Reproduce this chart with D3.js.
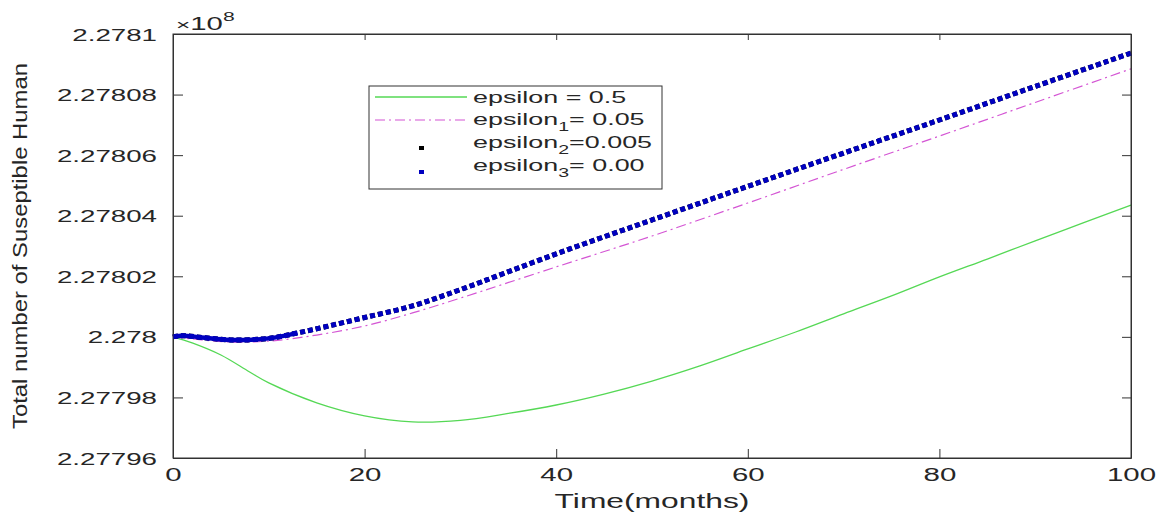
<!DOCTYPE html>
<html>
<head>
<meta charset="utf-8">
<script src="https://cdn.jsdelivr.net/npm/d3@7"></script>
<style>
  body { margin: 0; background: #fff; }
  svg { display: block; font-family: "Liberation Sans", Arial, sans-serif; }
  .axis text { fill: #262626; }
  .axis path, .axis line { stroke: #333; }
</style>
</head>
<body>
<svg class="chart-svg" width="1160" height="512"></svg>
<script>
// series values are in units of 1e8 (the axis shows the x10^8 factor)
const tEps0 = [0, 2, 5, 8, 10, 15, 20, 25, 30, 35, 40, 45, 50, 55, 60, 65, 70, 75, 80, 85, 90, 95, 100];
const sEps0 = [2.2780000, 2.2779980, 2.2779940, 2.2779884, 2.2779848, 2.2779782, 2.2779739, 2.2779719,
  2.2779724, 2.2779747, 2.2779775, 2.2779811, 2.2779854, 2.2779904, 2.2779960, 2.2780016, 2.2780076,
  2.2780135, 2.2780198, 2.2780257, 2.2780317, 2.2780376, 2.2780435];

const tEps1 = [0, 3, 6, 10, 15, 20, 25, 30, 40, 50, 60, 70, 80, 90, 100];
const sEps1 = [2.2780000, 2.2779990, 2.2779983, 2.2779986, 2.2780006, 2.2780036, 2.2780079, 2.2780128,
  2.2780231, 2.2780333, 2.2780442, 2.2780553, 2.2780663, 2.2780774, 2.2780885];

const tEps2 = [0, 1, 3, 6, 10, 13, 16, 20, 25, 30, 40, 50, 60, 70, 80, 90, 100];
const sEps2 = [2.2780000, 2.2780004, 2.2779998, 2.2779990, 2.2779995, 2.2780013, 2.2780034, 2.2780064,
  2.2780102, 2.2780156, 2.2780274, 2.2780386, 2.2780497, 2.2780607, 2.2780716, 2.2780827, 2.2780937];

const tEps3 = [0, 1, 3, 6, 10, 13, 16, 20, 25, 30, 40, 50, 60, 70, 80, 90, 100];
const sEps3 = [2.2780000, 2.2780004, 2.2779998, 2.2779990, 2.2779995, 2.2780013, 2.2780034, 2.2780064,
  2.2780102, 2.2780156, 2.2780274, 2.2780386, 2.2780497, 2.2780607, 2.2780716, 2.2780827, 2.2780937];

const xTicks = [0, 20, 40, 60, 80, 100];
const yTicks = [2.27796, 2.27798, 2.278, 2.27802, 2.27804, 2.27806, 2.27808, 2.2781];

const legendNames = ['epsilon', 'epsilon', 'epsilon', 'epsilon'];
const legendSubs = ['', '1', '2', '3'];
const legendValues = [' = 0.5', '= 0.05', '=0.005', '= 0.00'];

const SX = 1.63; // the picture is stretched sideways

const margin = { top: 34, right: 29, bottom: 54, left: 173 };
const width = 1160 - margin.left - margin.right;
const height = 512 - margin.top - margin.bottom;

const x = d3.scaleLinear().domain([0, 100]).range([0, width]);
const y = d3.scaleLinear().domain([2.27796, 2.2781]).range([height, 0]);

const svg = d3.select('.chart-svg');
const g = svg.append('g').attr('transform', `translate(${margin.left}, ${margin.top})`);

const zip = (ts, vs) => ts.map((t, i) => ({ t, v: vs[i] }));
const line = d3.line()
  .x((d) => x(d.t))
  .y((d) => y(d.v))
  .curve(d3.curveCatmullRom.alpha(0.5));

const stretched = (sel, px, py, size, anchor) => sel.append('text')
  .attr('transform', `translate(${px}, ${py}) scale(${SX}, 1)`)
  .attr('font-size', size)
  .attr('text-anchor', anchor)
  .attr('fill', '#262626');

// axes
g.append('g')
  .attr('class', 'axis')
  .attr('transform', `translate(0, ${height})`)
  .call(d3.axisBottom(x).tickValues(xTicks).tickSize(-9).tickSizeOuter(0).tickPadding(10))
  .call((a) => a.selectAll('text')
    .attr('font-size', 19)
    .attr('transform', `scale(1.55, 1)`));

g.append('g')
  .attr('class', 'axis')
  .call(d3.axisLeft(y).tickValues(yTicks).tickSize(-10).tickSizeOuter(0)
    .tickFormat((d) => String(+d.toFixed(5))))
  .call((a) => a.selectAll('text')
    .attr('font-size', 17)
    .attr('x', -16 / SX)
    .attr('dy', '0.36em')
    .attr('transform', `scale(${SX}, 1)`));

g.append('g')
  .attr('class', 'axis')
  .call(d3.axisTop(x).tickValues(xTicks).tickSize(-6).tickSizeOuter(0).tickFormat(''));

g.append('g')
  .attr('class', 'axis')
  .attr('transform', `translate(${width}, 0)`)
  .call(d3.axisRight(y).tickValues(yTicks).tickSize(-9).tickSizeOuter(0).tickFormat(''));

// x10^8 factor
const factor = stretched(g, 3, -4, 18, 'start');
factor.append('tspan').attr('font-size', 15).text('\u00d7');
factor.append('tspan').text('10');
factor.append('tspan').attr('font-size', 13).attr('dy', -9).text('8');

// axis titles
stretched(svg, margin.left + width / 2, 508, 19.5, 'middle').text('Time(months)');

svg.append('text')
  .attr('transform', `translate(27, ${margin.top + height / 2}) rotate(-90)`)
  .attr('font-size', 21)
  .attr('text-anchor', 'middle')
  .attr('textLength', 366)
  .attr('lengthAdjust', 'spacingAndGlyphs')
  .attr('fill', '#262626')
  .text('Total number of Suseptible Human');

// lines
const plot = g.append('g');

plot.append('path')
  .datum(zip(tEps0, sEps0))
  .attr('fill', 'none')
  .attr('stroke', '#55d855')
  .attr('stroke-width', 1.3)
  .attr('d', line);

plot.append('path')
  .datum(zip(tEps1, sEps1))
  .attr('fill', 'none')
  .attr('stroke', '#d455d4')
  .attr('stroke-width', 1.2)
  .attr('stroke-dasharray', '10,4,2,4')
  .attr('d', line);

plot.append('path')
  .datum(zip(tEps2, sEps2))
  .attr('fill', 'none')
  .attr('stroke', '#000')
  .attr('stroke-width', 5)
  .attr('stroke-dasharray', '5,3')
  .attr('d', line);

plot.append('path')
  .datum(zip(tEps3, sEps3))
  .attr('fill', 'none')
  .attr('stroke', '#0000c0')
  .attr('stroke-width', 5)
  .attr('stroke-dasharray', '5,3')
  .attr('d', line);

// early part of the solution where the markers overlap into a solid band
plot.append('path')
  .datum(zip(tEps3, sEps3).filter((d) => d.t <= 13))
  .attr('fill', 'none')
  .attr('stroke', '#0000c0')
  .attr('stroke-width', 4.5)
  .attr('d', line);

// plot box
g.append('rect')
  .attr('width', width)
  .attr('height', height)
  .attr('fill', 'none')
  .attr('stroke', '#333');

// legend
const legend = svg.append('g').attr('transform', 'translate(369, 86)');
legend.append('rect')
  .attr('width', 293)
  .attr('height', 103)
  .attr('fill', '#fff')
  .attr('stroke', '#333');

const rowBase = [17, 39, 62, 85];
legend.append('line')
  .attr('x1', 6).attr('x2', 98).attr('y1', 11).attr('y2', 11)
  .attr('stroke', '#55d855').attr('stroke-width', 1.3);
legend.append('line')
  .attr('x1', 6).attr('x2', 98).attr('y1', 34).attr('y2', 34)
  .attr('stroke', '#d455d4').attr('stroke-width', 1.2).attr('stroke-dasharray', '10,4,2,4');
legend.append('rect')
  .attr('x', 50).attr('y', 60).attr('width', 5).attr('height', 4).attr('fill', '#000');
legend.append('rect')
  .attr('x', 50).attr('y', 84).attr('width', 5).attr('height', 4).attr('fill', '#0000c0');

legendNames.forEach((name, i) => {
  const t = stretched(legend, 104, rowBase[i], 16.5, 'start');
  t.append('tspan').text(name);
  if (legendSubs[i]) {
    t.append('tspan').attr('font-size', 12).attr('dy', 6).text(legendSubs[i]);
    t.append('tspan').attr('dy', -6).text(legendValues[i]);
  } else {
    t.append('tspan').text(legendValues[i]);
  }
});
</script>
</body>
</html>
